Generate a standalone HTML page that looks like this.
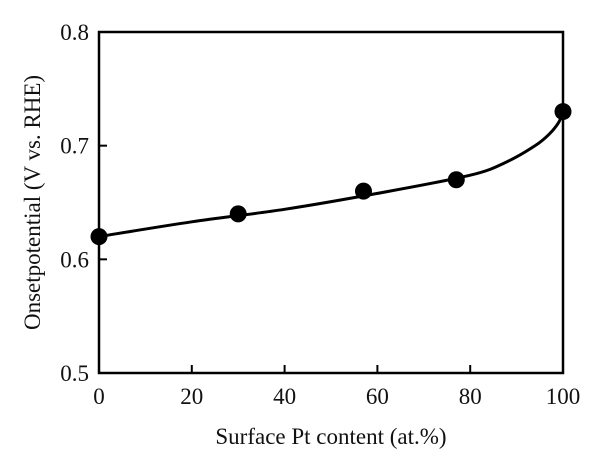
<!DOCTYPE html>
<html><head><meta charset="utf-8"><style>
body{margin:0;background:#fff;}
svg text{font-family:"Liberation Serif",serif;fill:#111;}
</style></head><body>
<svg id="chart" width="600" height="467" viewBox="0 0 600 467"></svg>
<script>
const ptX=[0,30,57,77,100];
const ptY=[0.62,0.64,0.66,0.67,0.73];
const fitX=[0,20,40,60,80,88,94,97,99,100];
const fitY=[0.620,0.633,0.644,0.658,0.674,0.686,0.700,0.710,0.720,0.729];
const xTicks=[0,20,40,60,80,100];
const yTicks=[0.5,0.6,0.7,0.8];
const L=99,R=563,T=32,B=373;
const sx=v=>L+(v-0)/100*(R-L);
const sy=v=>B-(v-0.5)/0.3*(B-T);
const svg=document.getElementById('chart');
const NS='http://www.w3.org/2000/svg';
function mk(t,a){const e=document.createElementNS(NS,t);for(const k in a)e.setAttribute(k,a[k]);svg.appendChild(e);return e;}
const frame=mk('rect',{x:L,y:T,width:R-L,height:B-T,fill:'none',stroke:'#000','stroke-width':2.5});


xTicks.forEach(v=>{
  const t=mk('line',{x1:sx(v),x2:sx(v),y1:B,y2:B-8,stroke:'#000','stroke-width':2});
  
  
  const l=mk('text',{x:sx(v),y:B+31,'text-anchor':'middle','font-size':23});
  l.textContent=v;
  
  
});
yTicks.forEach(v=>{
  const t=mk('line',{x1:L,x2:L+8,y1:sy(v),y2:sy(v),stroke:'#000','stroke-width':2});
  
  
  const l=mk('text',{x:L-10,y:sy(v)+8,'text-anchor':'end','font-size':23});
  l.textContent=v.toFixed(1);
  
  
});
const xt=mk('text',{x:(L+R)/2,y:444,'text-anchor':'middle','font-size':23});
xt.textContent='Surface Pt content (at.%)';


const yt=mk('text',{x:0,y:0,'text-anchor':'middle','font-size':23,transform:`translate(40,${(T+B)/2}) rotate(-90)`});
yt.textContent='Onsetpotential (V vs. RHE)';


const P=fitX.map((x,i)=>[sx(x),sy(fitY[i])]);
let d=`M${P[0][0]},${P[0][1]}`;
for(let i=0;i<P.length-1;i++){
  const p0=P[Math.max(0,i-1)],p1=P[i],p2=P[i+1],p3=P[Math.min(P.length-1,i+2)];
  const c1=[p1[0]+(p2[0]-p0[0])/6,p1[1]+(p2[1]-p0[1])/6];
  const c2=[p2[0]-(p3[0]-p1[0])/6,p2[1]-(p3[1]-p1[1])/6];
  d+=` C${c1[0]},${c1[1]} ${c2[0]},${c2[1]} ${p2[0]},${p2[1]}`;
}
const fit=mk('path',{d:d,fill:'none',stroke:'#000','stroke-width':3});


ptX.forEach((x,i)=>{
  const c=mk('circle',{cx:sx(x),cy:sy(ptY[i]),r:8.5,fill:'#000'});
  
  
});
</script>
</body></html>
